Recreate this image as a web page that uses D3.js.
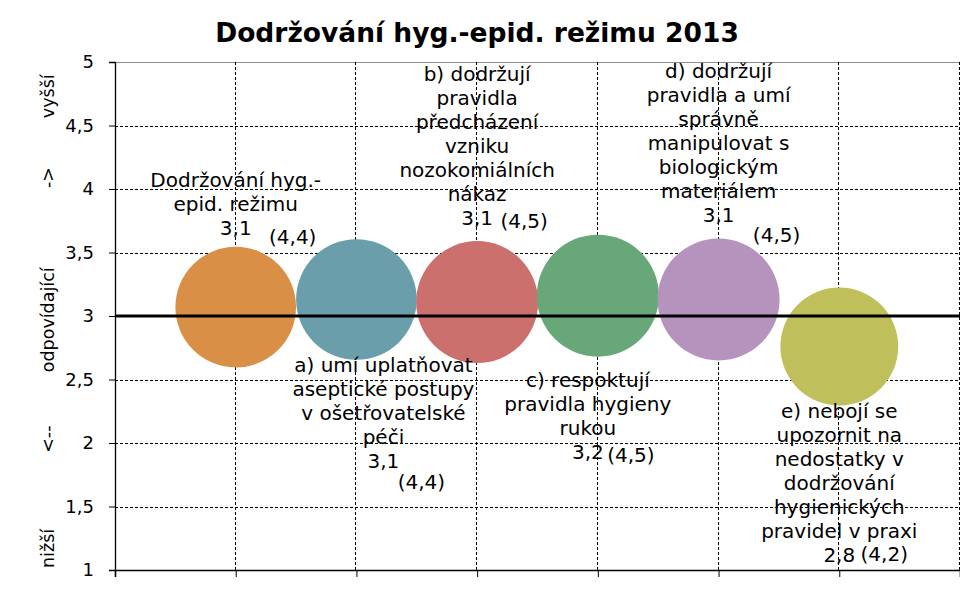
<!DOCTYPE html>
<html>
<head>
<meta charset="utf-8">
<script src="https://cdn.jsdelivr.net/npm/d3@7"></script>
<style>
  html, body { margin: 0; padding: 0; background: #fff; }
  svg { display: block; font-family: "DejaVu Sans", Verdana, sans-serif; }
</style>
</head>
<body>
<svg id="chart" width="960" height="595"></svg>
<script>
// ---- data ----
const titleText = "Dodržování hyg.-epid. režimu 2013";
const categories = [
  ["Dodržování hyg.-", "epid. režimu"],
  ["a) umí uplatňovat", "aseptické postupy", "v ošetřovatelské", "péči"],
  ["b) dodržují", "pravidla", "předcházení", "vzniku", "nozokomiálních", "nákaz"],
  ["c) respoktují", "pravidla hygieny", "rukou"],
  ["d) dodržují", "pravidla a umí", "správně", "manipulovat s", "biologickým", "materiálem"],
  ["e) nebojí se", "upozornit na", "nedostatky v", "dodržování", "hygienických", "pravidel v praxi"]
];
const xValues = [1, 2, 3, 4, 5, 6];
const yValues = [3.07, 3.13, 3.11, 3.16, 3.13, 2.76];
const yLabels = ["3,1", "3,1", "3,1", "3,2", "3,1", "2,8"];
const sizes = [4.4, 4.4, 4.5, 4.5, 4.5, 4.2];
const sizeLabels = ["(4,4)", "(4,4)", "(4,5)", "(4,5)", "(4,5)", "(4,2)"];
const yTicks = [1, 1.5, 2, 2.5, 3, 3.5, 4, 4.5, 5];
const xTicks = [0, 1, 2, 3, 4, 5, 6, 7];
const axisWords = ["vyšší", "->", "odpovídající", "<--", "nižší"];
const axisWordLevels = [4.73, 4.09, 2.97, 2.03, 1.17];
const referenceLevel = 3;

// ---- layout / style ----
const colors = ["#D98F46", "#6A9EAB", "#CC706E", "#68A778", "#B593BD", "#BFBF5C"];
const labelSide = ["above", "below", "above", "below", "above", "below"];
// label block nudges relative to the bubble: [dx, dy, size-label dx, size-label dy]
const labelNudge = [[0, 2, 57, 9], [27, -1, 38, 21], [0, -2, 47, 3], [-10, 17, 43, 3], [0, -2, 58, 20], [0, 0, 45, -1]];

const svg = d3.select("#chart");
const pLeft = 115, pRight = 960, pTop = 62, pBottom = 570;
const x = d3.scaleLinear().domain([0, 7]).range([pLeft, pRight]);
const y = d3.scaleLinear().domain([1, 5]).range([pBottom, pTop]);
const r = d3.scaleSqrt().domain([0, 4.5]).range([0, 61]);
const fmt = v => String(v).replace(".", ",");
const fs = 20, lh = 24;

// title
svg.append("text").attr("x", 477).attr("y", 42).attr("text-anchor", "middle")
  .style("font-size", "26.5px").style("font-weight", "bold").text(titleText);

// top border
svg.append("line").attr("x1", pLeft).attr("x2", pRight).attr("y1", y(5) + 0.5).attr("y2", y(5) + 0.5)
  .attr("stroke", "#8c8c8c").attr("stroke-width", 1);

// horizontal grid
svg.append("g").selectAll("line").data(yTicks.filter(t => t > 1 && t < 5)).join("line")
  .attr("x1", pLeft).attr("x2", pRight).attr("y1", d => Math.round(y(d)) + 0.5).attr("y2", d => Math.round(y(d)) + 0.5)
  .attr("stroke", "#000").attr("stroke-width", 1).attr("stroke-dasharray", "3,2");

// vertical grid
svg.append("g").selectAll("line").data(xTicks.filter(t => t > 0)).join("line")
  .attr("x1", d => Math.round(x(d)) - 0.5).attr("x2", d => Math.round(x(d)) - 0.5)
  .attr("y1", y(5)).attr("y2", y(1))
  .attr("stroke", "#000").attr("stroke-width", 1).attr("stroke-dasharray", "3,2");

// y axis
const yAxis = d3.axisLeft(y).tickValues(yTicks).tickFormat(fmt).tickSize(6).tickPadding(15);
const gy = svg.append("g").attr("transform", `translate(${pLeft},0)`).call(yAxis);
gy.select(".domain").attr("stroke", "#000").attr("stroke-width", 1.3);
gy.selectAll(".tick line").attr("stroke", "#000");
gy.selectAll(".tick text").style("font-size", "18px").style("font-family", "DejaVu Sans, Verdana, sans-serif").attr("fill", "#000");

// x axis (no labels)
const xAxis = d3.axisBottom(x).tickValues(xTicks).tickFormat("").tickSize(7);
const gx = svg.append("g").attr("transform", `translate(0,${pBottom})`).call(xAxis);
gx.select(".domain").attr("stroke", "#000").attr("stroke-width", 1.6);
gx.selectAll(".tick line").attr("stroke", "#000");

// axis title words
svg.append("g").selectAll("text").data(axisWords).join("text")
  .attr("transform", (d, i) => `translate(54,${y(axisWordLevels[i])}) rotate(-90)`)
  .attr("text-anchor", "middle").style("font-size", "17.5px").text(d => d);

// bubbles
const data = xValues.map((xv, i) => ({
  x: xv, y: yValues[i], size: sizes[i], name: categories[i],
  yl: yLabels[i], sl: sizeLabels[i], side: labelSide[i], color: colors[i], nudge: labelNudge[i]
}));
svg.append("g").selectAll("circle").data(data).join("circle")
  .attr("cx", d => x(d.x)).attr("cy", d => y(d.y)).attr("r", d => r(d.size))
  .attr("fill", d => d.color);

// reference line
svg.append("line").attr("x1", pLeft).attr("x2", pRight)
  .attr("y1", y(referenceLevel)).attr("y2", y(referenceLevel))
  .attr("stroke", "#000").attr("stroke-width", 3);

// labels
const lab = svg.append("g").style("font-size", fs + "px");
data.forEach(d => {
  const [dx, dy, sdx, sdy] = d.nudge;
  const cx = x(d.x) + dx, cy = y(d.y), rad = r(d.size);
  let firstBase, valueBase;
  if (d.side === "above") {
    valueBase = cy - rad - 14 + dy;
    firstBase = valueBase - lh * d.name.length;
  } else {
    firstBase = cy + rad + 13 + dy;
    valueBase = firstBase + lh * d.name.length;
  }
  d.name.forEach((line, k) => {
    lab.append("text").attr("x", cx).attr("y", firstBase + k * lh)
      .attr("text-anchor", "middle").text(line);
  });
  lab.append("text").attr("x", cx).attr("y", valueBase).attr("text-anchor", "middle").text(d.yl);
  lab.append("text").attr("x", cx + sdx).attr("y", valueBase + sdy)
    .attr("text-anchor", "middle").text(d.sl);
});
</script>
</body>
</html>
